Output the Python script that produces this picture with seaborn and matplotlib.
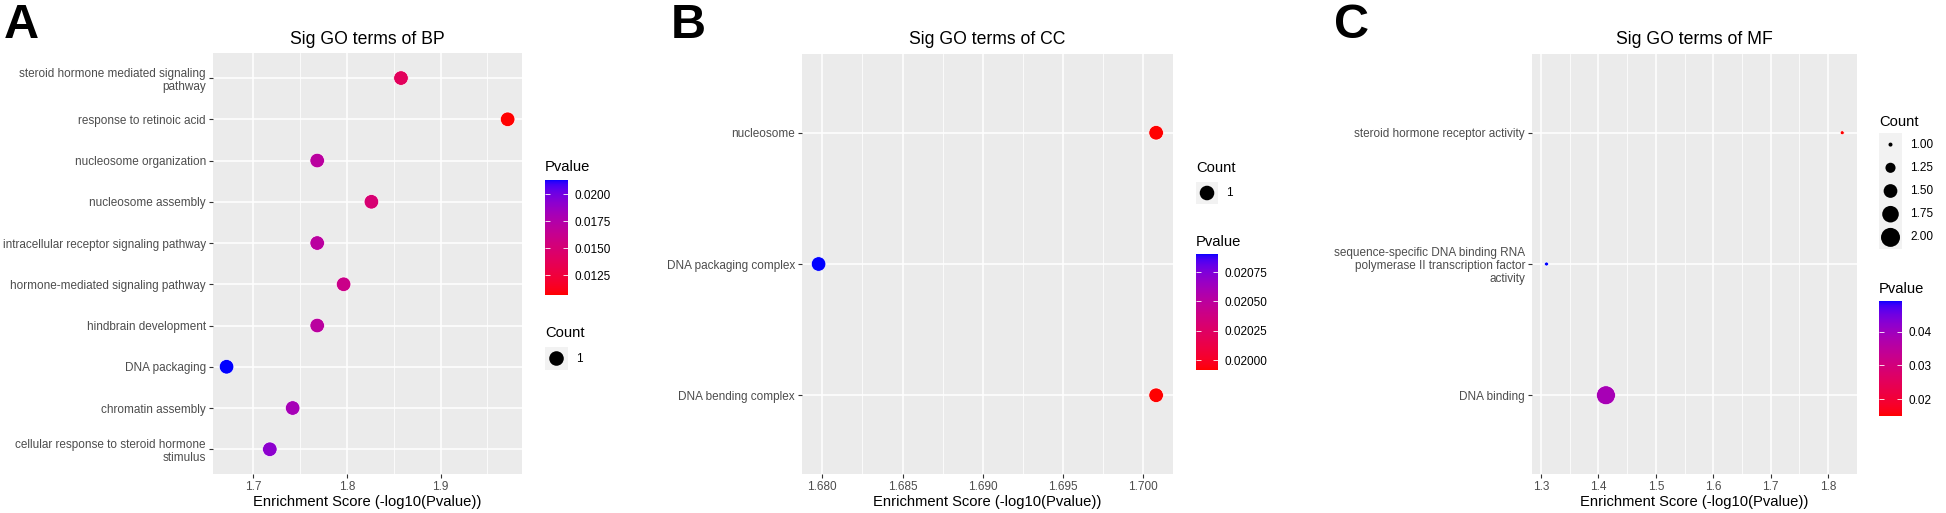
import numpy as np
import pandas as pd
import seaborn as sns
import matplotlib as mpl
import matplotlib.pyplot as plt
from matplotlib.colors import ListedColormap, Normalize

# ---- data ----
bp_terms = ["steroid hormone mediated signaling\npathway", "response to retinoic acid",
            "nucleosome organization", "nucleosome assembly",
            "intracellular receptor signaling pathway", "hormone-mediated signaling pathway",
            "hindbrain development", "DNA packaging", "chromatin assembly",
            "cellular response to steroid hormone\nstimulus"]
bp_pvalue = [0.013874, 0.010676, 0.017045, 0.014920, 0.017045,
             0.015975, 0.017045, 0.021297, 0.018105, 0.019150]
bp_count = [1, 1, 1, 1, 1, 1, 1, 1, 1, 1]

cc_terms = ["nucleosome", "DNA packaging complex", "DNA bending complex"]
cc_pvalue = [0.019916, 0.020904, 0.019916]
cc_count = [1, 1, 1]

mf_terms = ["steroid hormone receptor activity",
            "sequence-specific DNA binding RNA\npolymerase II transcription factor\nactivity",
            "DNA binding"]
mf_pvalue = [0.014972, 0.049045, 0.038637]
mf_count = [1, 1, 2]

bp_xticks = [1.7, 1.8, 1.9]
cc_xticks = [1.680, 1.685, 1.690, 1.695, 1.700]
mf_xticks = [1.3, 1.4, 1.5, 1.6, 1.7, 1.8]
bp_pticks = [0.0125, 0.0150, 0.0175, 0.0200]
cc_pticks = [0.02000, 0.02025, 0.02050, 0.02075]
mf_pticks = [0.02, 0.03, 0.04]
bp_count_keys = [1]
cc_count_keys = [1]
mf_count_keys = [1.00, 1.25, 1.50, 1.75, 2.00]

W, H = 1946, 513
plt.rcParams['font.family'] = ['Liberation Sans', 'DejaVu Sans']


def box(l, t, r, b):
    return [l / W, 1 - b / H, (r - l) / W, (b - t) / H]


def lab_gradient(low, high, n=256):
    # ggplot style gradient: interpolate in CIE Lab
    M = np.array([[0.4124564, 0.3575761, 0.1804375],
                  [0.2126729, 0.7151522, 0.0721750],
                  [0.0193339, 0.1191920, 0.9503041]])
    white = np.array([0.95047, 1.0, 1.08883])

    def to_lab(c):
        c = np.array(mpl.colors.to_rgb(c))
        lin = np.where(c <= 0.04045, c / 12.92, ((c + 0.055) / 1.055) ** 2.4)
        t = (M @ lin) / white
        f = np.where(t > (6 / 29) ** 3, np.cbrt(t), t / (3 * (6 / 29) ** 2) + 4 / 29)
        return np.array([116 * f[1] - 16, 500 * (f[0] - f[1]), 200 * (f[1] - f[2])])

    a, b = to_lab(low), to_lab(high)
    w = np.linspace(0, 1, n)[:, None]
    lab = a + (b - a) * w
    fy = (lab[:, 0] + 16) / 116
    f = np.stack([fy + lab[:, 1] / 500, fy, fy - lab[:, 2] / 200], axis=1)
    t = np.where(f > 6 / 29, f ** 3, 3 * (6 / 29) ** 2 * (f - 4 / 29))
    lin = np.clip((t * white) @ np.linalg.inv(M).T, 0, 1)
    rgb = np.where(lin <= 0.0031308, 12.92 * lin, 1.055 * lin ** (1 / 2.4) - 0.055)
    return ListedColormap(np.clip(rgb, 0, 1))


cmap = lab_gradient("red", "blue")

fig = plt.figure(figsize=(W / 100, H / 100), dpi=100)


def size_of(v, sizes, size_norm):
    if isinstance(sizes, dict):
        return sizes[v]
    lo, hi = size_norm
    return sizes[0] + (v - lo) / (hi - lo) * (sizes[1] - sizes[0])


def panel(letter, letter_x, title, terms, pvalue, count, xticks, xfmt,
          pticks, pfmt, keys, kfmt, sizes, size_norm, area, cbar_box, key_box,
          ptitle_y, ctitle_y):
    df = pd.DataFrame({"Term": terms, "Pvalue": pvalue, "Count": count})
    df["Score"] = -np.log10(df["Pvalue"])
    l, t, r, b = area
    ax = fig.add_axes(box(l, t, r, b))
    ax.set_facecolor("#EBEBEB")
    pnorm = (df["Pvalue"].min(), df["Pvalue"].max())
    sns.scatterplot(data=df, x="Score", y="Term", hue="Pvalue", palette=cmap,
                    hue_norm=pnorm, size="Count", sizes=sizes, size_norm=size_norm,
                    legend=False, ax=ax, edgecolor="white", linewidth=0.5, zorder=3)
    n = len(terms)
    ax.set_yticks(range(n), labels=terms)
    for lb in ax.get_yticklabels():
        lb.set_linespacing(1.12)
    ax.set_ylim(n - 0.4, -0.6)
    lo, hi = df["Score"].min(), df["Score"].max()
    pad = 0.05 * (hi - lo)
    ax.set_xlim(lo - pad, hi + pad)
    ax.set_xticks(xticks, labels=[xfmt % v for v in xticks])
    step = xticks[1] - xticks[0]
    minor = [v + step / 2 for v in [xticks[0] - step] + list(xticks)]
    minor = [v for v in minor if lo - pad < v < hi + pad]
    ax.set_xticks(minor, minor=True)
    ax.grid(which="major", color="white", lw=1.1)
    ax.grid(which="minor", axis="x", color="white", lw=0.55)
    ax.set_axisbelow(True)
    for s in ax.spines.values():
        s.set_visible(False)
    ax.tick_params(which="major", length=2.65, width=0.8, color="#333333",
                   labelcolor="#4D4D4D", labelsize=8.5, pad=2.1)
    ax.tick_params(which="minor", length=0)
    ax.set_ylabel("")
    ax.set_xlabel("Enrichment Score (-log10(Pvalue))", fontsize=10.6, labelpad=2)
    cx = (l + r) / 2
    fig.text(cx / W, 1 - 44 / H, title, ha="center", va="baseline", fontsize=12.7)
    fig.text(letter_x / W, 1 - 38 / H, letter, ha="left", va="baseline",
             fontsize=35, fontweight="bold")

    # Pvalue colourbar
    cl, ct, cr, cbt = cbar_box
    fig.text(cl / W, 1 - ptitle_y / H, "Pvalue", ha="left", va="baseline", fontsize=10.6)
    cax = fig.add_axes(box(cl, ct, cr, cbt))
    cb = mpl.colorbar.ColorbarBase(cax, cmap=cmap, norm=Normalize(*pnorm),
                                   orientation="vertical")
    cb.outline.set_visible(False)
    cb.set_ticks(pticks)
    cb.set_ticklabels([pfmt % v for v in pticks])
    cax.minorticks_off()
    cax.tick_params(direction="in", length=3.3, width=0.6, color="white",
                    left=True, right=True, labelleft=False, labelright=True,
                    labelsize=8.5, pad=5)

    # Count key
    kl, kt, kr, kb = key_box
    fig.text(kl / W, 1 - ctitle_y / H, "Count", ha="left", va="baseline", fontsize=10.6)
    kax = fig.add_axes(box(kl, kt, kr, kb))
    kax.set_facecolor("#F2F2F2")
    kax.set_xlim(0, 1)
    kax.set_ylim(len(keys), 0)
    kax.set_xticks([])
    kax.set_yticks([])
    for s in kax.spines.values():
        s.set_visible(False)
    kh = (kb - kt) / len(keys)
    for i, v in enumerate(keys):
        kax.scatter([0.5], [i + 0.5], s=size_of(v, sizes, size_norm), color="black",
                    edgecolor="none")
        fig.text((kr + 8.5) / W, 1 - (kt + kh * (i + 0.5)) / H, kfmt % v,
                 ha="left", va="center", fontsize=8.5)


panel("A", 4, "Sig GO terms of BP", bp_terms, bp_pvalue, bp_count, bp_xticks, "%.1f",
      bp_pticks, "%.4f", bp_count_keys, "%d", {1: 110}, None,
      (212.5, 53.3, 521.7, 474), (545, 180, 568, 295), (545, 347, 568, 370), 171, 337)
panel("B", 671, "Sig GO terms of CC", cc_terms, cc_pvalue, cc_count, cc_xticks, "%.3f",
      cc_pticks, "%.5f", cc_count_keys, "%d", {1: 110}, None,
      (801.7, 54, 1173, 474), (1196, 254, 1218, 370), (1196, 182, 1218, 204), 246, 172)
panel("C", 1334, "Sig GO terms of MF", mf_terms, mf_pvalue, mf_count, mf_xticks, "%.1f",
      mf_pticks, "%.2f", mf_count_keys, "%.2f", (8.3, 187), (1, 2),
      (1531.7, 54, 1857, 474), (1879, 301, 1902, 416), (1879, 133, 1902, 249), 293, 126)

fig.savefig("out.png", dpi=100, facecolor="white")
